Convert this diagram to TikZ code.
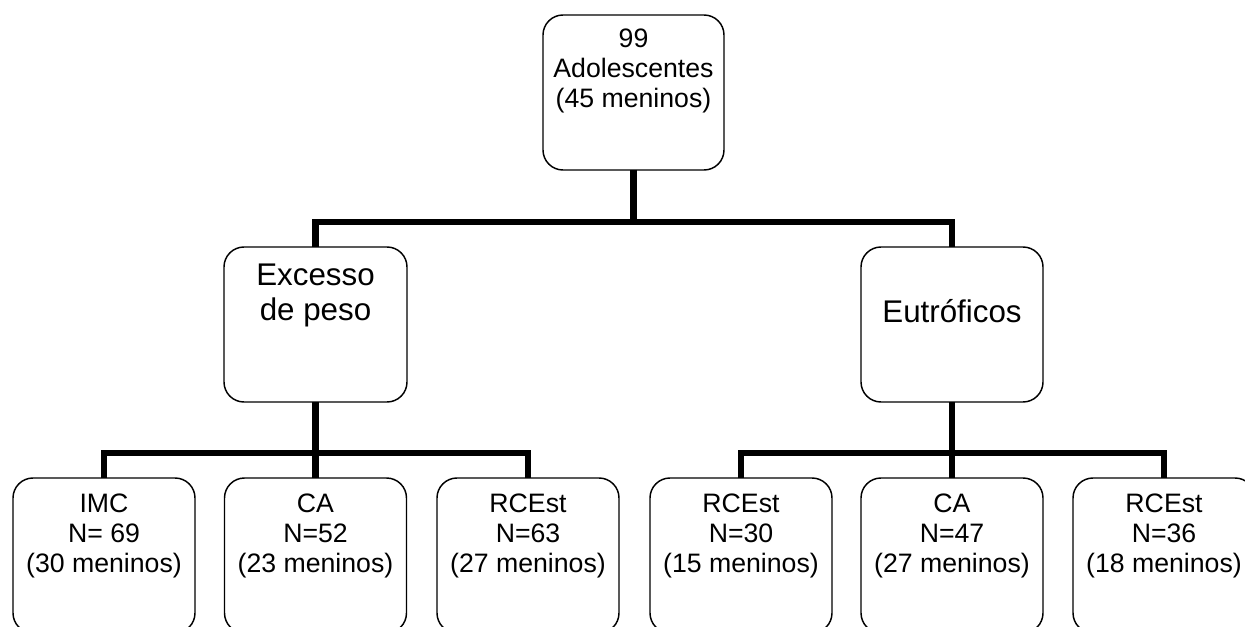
\documentclass[tikz,border=0pt]{standalone}
\usepackage{fontspec}
\setmainfont{Liberation Sans}
\newcommand{\boxcontent}[5]{\parbox[c][#2][t]{#1}{\centering\fontsize{#4}{#4*1.12}\selectfont\rule{0pt}{#3}#5}}
\newcommand{\smallbox}[1]{\parbox[c][116.25pt][t]{136.5pt}{\centering\fontsize{20pt}{22.5pt}\selectfont\rule{0pt}{25.5pt}#1}}
\tikzset{
  box/.style={draw, line width=1.1pt, rounded corners=15pt, inner sep=0pt, outer sep=0pt},
  conn/.style={line width=5pt, line join=miter},
}
\begin{document}
\begin{tikzpicture}[x=0.75pt, y=-0.75pt]
\useasboundingbox (0,0) rectangle (1245,627);
\clip (0,0) rectangle (1245,627);
\fill[white] (0,0) rectangle (1245,627);
\path (0,222) coordinate (y1) (0,453) coordinate (y2);

\node[box] (top) at (633.5,92.5) {\parbox[c][116.25pt][t]{135.75pt}{\centering\fontsize{20pt}{22.5pt}\selectfont\rule{0pt}{24.75pt}99\\Adolescentes\\(45 meninos)}};
\node[box] (exc) at (315.5,324.5) {\parbox[c][116.25pt][t]{137.25pt}{\centering\fontsize{23.5pt}{26.25pt}\selectfont\rule{0pt}{28.5pt}Excesso\\de peso}};
\node[box] (eut) at (952,324.5) {\parbox[c][116.25pt][t]{136.5pt}{\centering\fontsize{23.5pt}{26.25pt}\selectfont\rule{0pt}{56.25pt}Eutróficos}};

\node[box] (imc) at (104,555.5) {\smallbox{IMC\\N= 69\\(30 meninos)}};
\node[box] (ca1) at (315.5,555.5) {\smallbox{CA\\N=52\\(23 meninos)}};
\node[box] (rce1) at (528,555.5) {\smallbox{RCEst\\N=63\\(27 meninos)}};
\node[box] (rce2) at (741,555.5) {\smallbox{RCEst\\N=30\\(15 meninos)}};
\node[box] (ca2) at (952,555.5) {\smallbox{CA\\N=47\\(27 meninos)}};
\node[box] (rce3) at (1164,555.5) {\smallbox{RCEst\\N=36\\(18 meninos)}};

\draw[conn] (top.south) -- (top.south |- y1);
\draw[conn] (exc.north) |- (top.south |- y1) -| (eut.north);
\draw[conn] (exc.south) -- (ca1.north);
\draw[conn] (imc.north) |- (ca1.north |- y2) -| (rce1.north);
\draw[conn] (eut.south) -- (ca2.north);
\draw[conn] (rce2.north) |- (ca2.north |- y2) -| (rce3.north);
\end{tikzpicture}
\end{document}
